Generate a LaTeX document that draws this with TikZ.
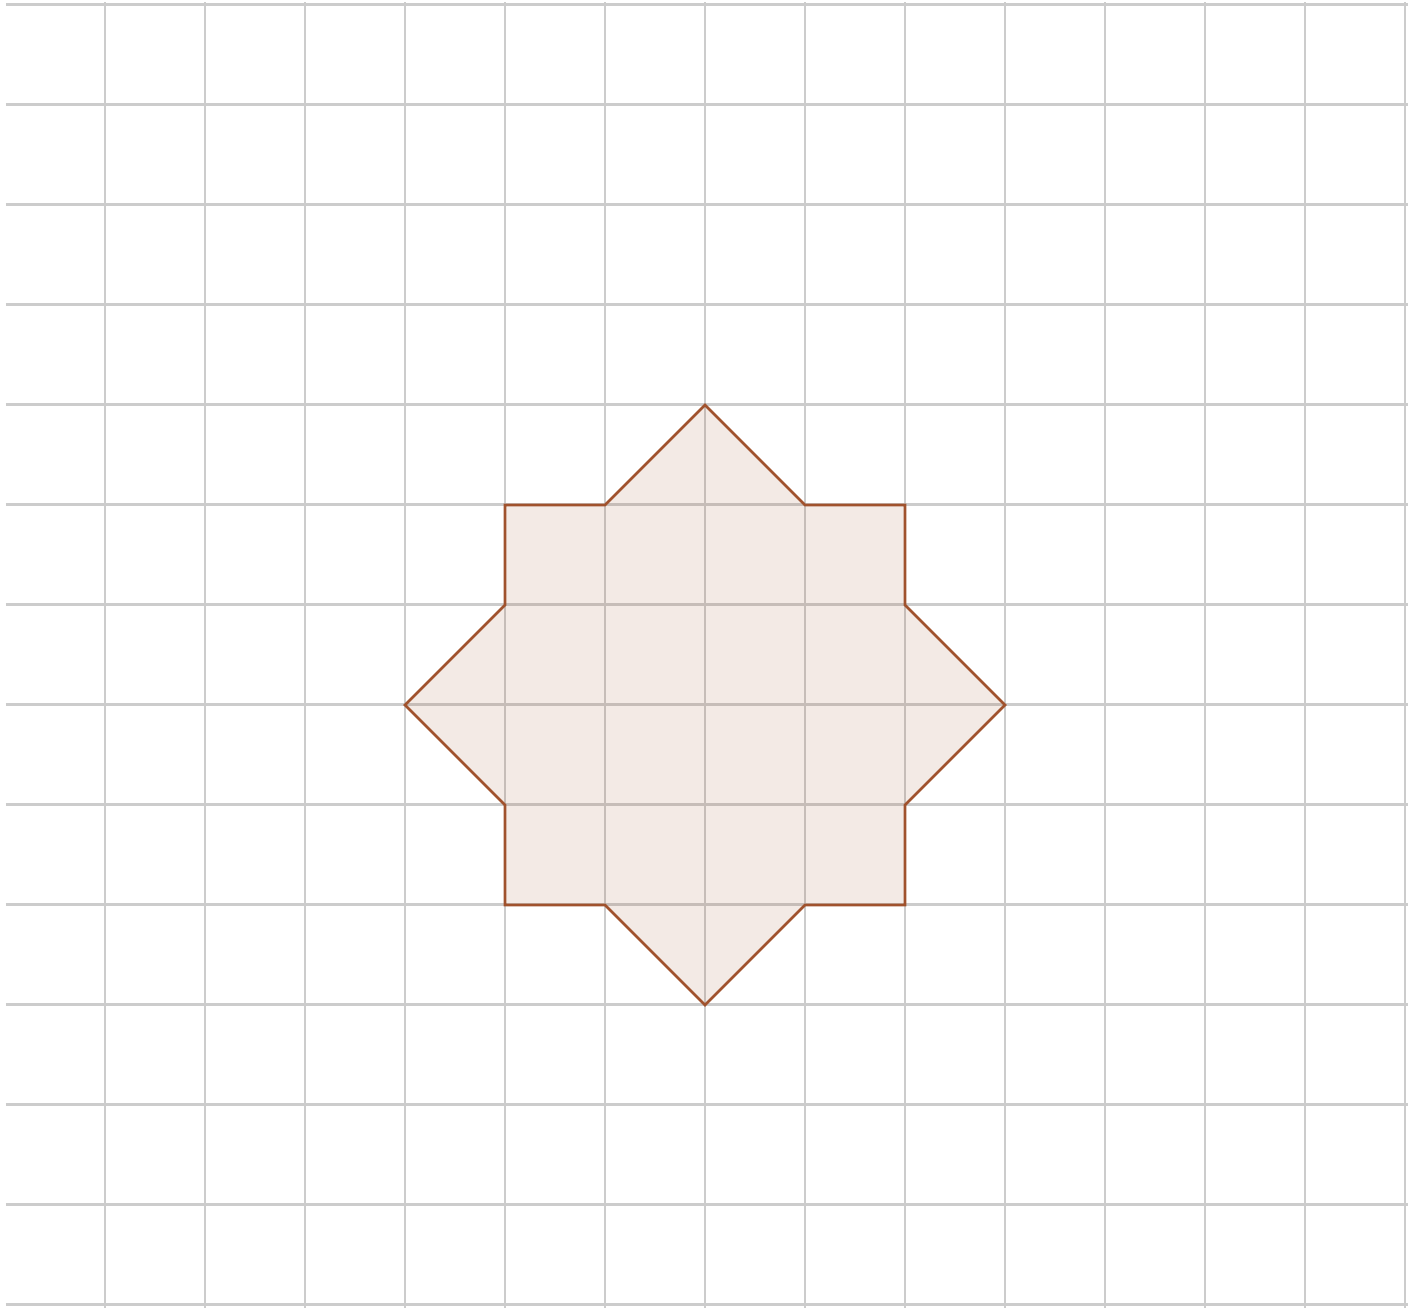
\documentclass[tikz,border=0pt]{standalone}
\definecolor{siennaline}{RGB}{160,82,45}
\definecolor{gridgray}{RGB}{204,204,204}
\begin{document}
\begin{tikzpicture}[x=1cm,y=1cm,
  gridline/.style={draw=gridgray, line width=0.7pt},
  starshape/.style={draw=siennaline, line width=0.75pt, line join=miter, fill=siennaline, fill opacity=0.12}]
\useasboundingbox (0,0) rectangle (14.18,13.08);
\foreach \k in {0,...,13} {
  \draw[gridline] (0.06,13.035-\k) -- (14.08,13.035-\k);
  \draw[gridline] (1.05+\k,0) -- (1.05+\k,13.06);
}
% star vertices (centre at 7.05, 6.03)
\coordinate (c) at (7.05,6.03);
\draw[starshape]
  ([shift={(0,3)}]c) -- ([shift={(1,2)}]c) -- ([shift={(2,2)}]c) -- ([shift={(2,1)}]c)
  -- ([shift={(3,0)}]c) -- ([shift={(2,-1)}]c) -- ([shift={(2,-2)}]c) -- ([shift={(1,-2)}]c)
  -- ([shift={(0,-3)}]c) -- ([shift={(-1,-2)}]c) -- ([shift={(-2,-2)}]c) -- ([shift={(-2,-1)}]c)
  -- ([shift={(-3,0)}]c) -- ([shift={(-2,1)}]c) -- ([shift={(-2,2)}]c) -- ([shift={(-1,2)}]c) -- cycle;
\end{tikzpicture}
\end{document}
